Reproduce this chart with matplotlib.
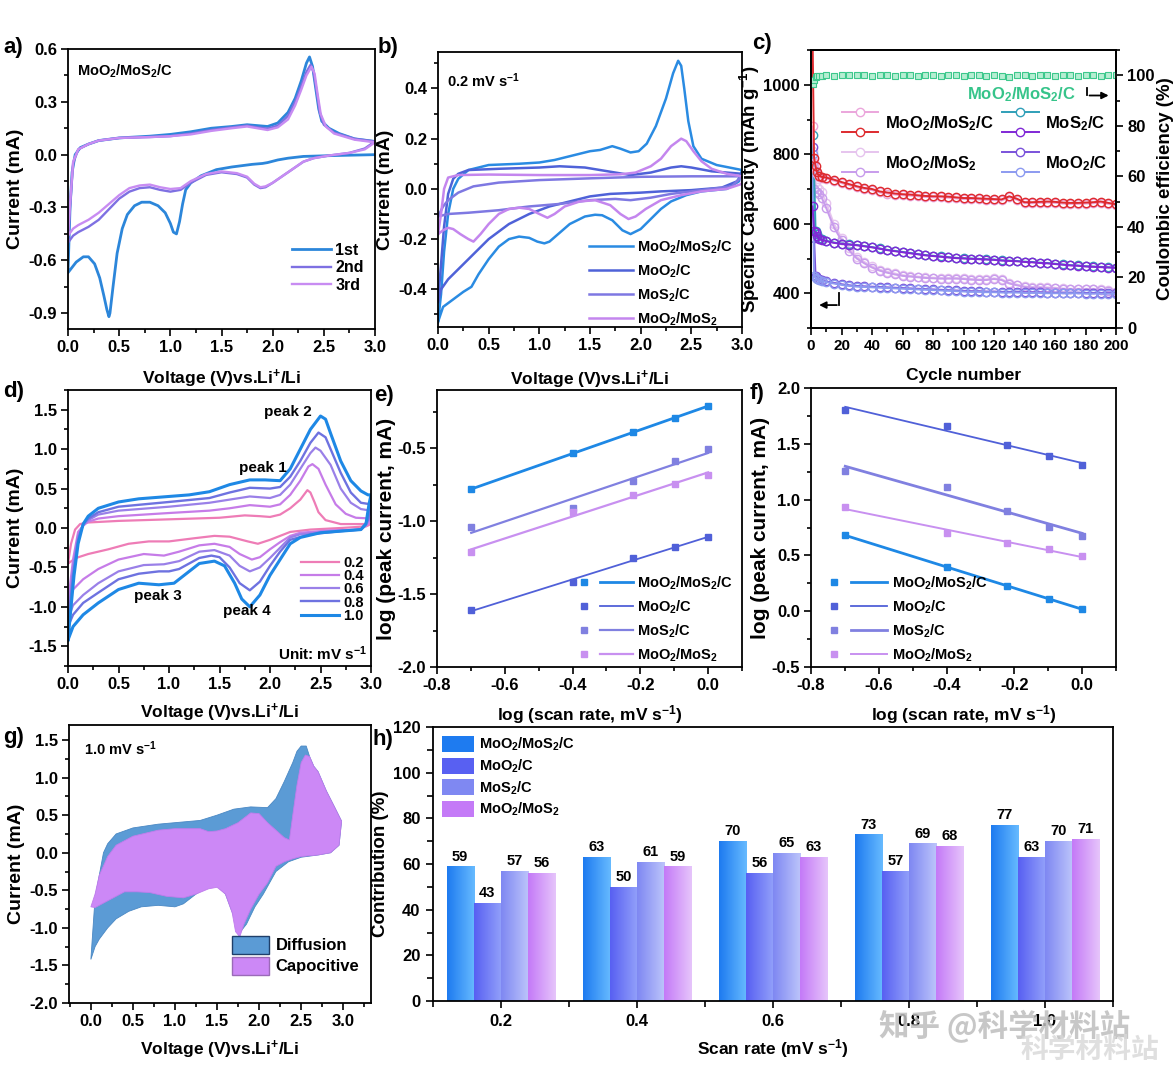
import numpy as np
import matplotlib
matplotlib.use('Agg')
import matplotlib.pyplot as plt
from matplotlib.ticker import MultipleLocator
from matplotlib.lines import Line2D
from matplotlib.patches import Patch
from matplotlib.legend_handler import HandlerBase
from matplotlib.colors import LinearSegmentedColormap

plt.rcParams['font.family'] = ['Liberation Sans', 'DejaVu Sans']
plt.rcParams['font.weight'] = 'bold'
plt.rcParams['axes.labelweight'] = 'bold'
plt.rcParams['mathtext.fontset'] = 'custom'
plt.rcParams['mathtext.rm'] = 'Liberation Sans:bold'
plt.rcParams['mathtext.it'] = 'Liberation Sans:bold'
plt.rcParams['mathtext.bf'] = 'Liberation Sans:bold'
plt.rcParams['axes.unicode_minus'] = False
plt.rcParams['axes.linewidth'] = 1.3

# ---------------- data ----------------
# a) CV of MoO2/MoS2/C, first three cycles (V, mA)
a_1st = [(3.0, 0.0), (2.6, -0.005), (2.3, -0.01), (2.15, -0.02), (2.05, -0.03), (1.95, -0.045), (1.9, -0.05),
         (1.8, -0.055), (1.6, -0.07), (1.45, -0.085), (1.3, -0.12), (1.2, -0.16), (1.15, -0.2), (1.12, -0.28),
         (1.09, -0.38), (1.06, -0.45), (1.03, -0.44), (1.0, -0.39), (0.95, -0.33), (0.88, -0.29), (0.8, -0.27),
         (0.72, -0.27), (0.65, -0.29), (0.58, -0.34), (0.53, -0.42), (0.48, -0.56), (0.44, -0.75), (0.41, -0.9),
         (0.4, -0.92), (0.38, -0.88), (0.35, -0.8), (0.31, -0.7), (0.26, -0.62), (0.2, -0.58), (0.15, -0.58),
         (0.08, -0.61), (0.0, -0.67), (0.02, -0.3), (0.04, -0.1), (0.07, 0.0), (0.12, 0.04), (0.2, 0.06),
         (0.3, 0.08), (0.5, 0.095), (0.8, 0.105), (1.0, 0.115), (1.2, 0.13), (1.4, 0.15), (1.6, 0.16),
         (1.75, 0.17), (1.85, 0.165), (1.95, 0.16), (2.05, 0.18), (2.15, 0.24), (2.22, 0.32), (2.28, 0.42),
         (2.33, 0.52), (2.36, 0.555), (2.39, 0.5), (2.42, 0.38), (2.45, 0.26), (2.48, 0.19), (2.55, 0.15),
         (2.65, 0.12), (2.8, 0.09), (3.0, 0.075)]
a_2nd = [(3.0, 0.075), (2.9, 0.035), (2.75, 0.01), (2.55, -0.005), (2.4, -0.02), (2.3, -0.04), (2.2, -0.08),
         (2.1, -0.12), (2.0, -0.16), (1.93, -0.185), (1.88, -0.19), (1.82, -0.17), (1.75, -0.13), (1.65, -0.11),
         (1.5, -0.1), (1.35, -0.115), (1.2, -0.16), (1.1, -0.2), (1.0, -0.21), (0.9, -0.2), (0.8, -0.185),
         (0.7, -0.19), (0.6, -0.21), (0.5, -0.25), (0.4, -0.31), (0.3, -0.37), (0.2, -0.41), (0.1, -0.44),
         (0.05, -0.46), (0.0, -0.5), (0.02, -0.3), (0.05, -0.05), (0.1, 0.03), (0.2, 0.06), (0.3, 0.08),
         (0.5, 0.095), (0.8, 0.1), (1.0, 0.105), (1.2, 0.12), (1.4, 0.14), (1.6, 0.155), (1.75, 0.165),
         (1.85, 0.155), (1.95, 0.148), (2.05, 0.165), (2.15, 0.22), (2.22, 0.3), (2.28, 0.39), (2.33, 0.47),
         (2.37, 0.51), (2.4, 0.47), (2.43, 0.36), (2.46, 0.24), (2.5, 0.17), (2.6, 0.125), (2.8, 0.09), (3.0, 0.075)]
a_3rd = [(3.0, 0.07), (2.9, 0.03), (2.75, 0.01), (2.55, -0.005), (2.4, -0.02), (2.3, -0.04), (2.2, -0.08),
         (2.1, -0.12), (2.0, -0.16), (1.93, -0.18), (1.88, -0.185), (1.82, -0.165), (1.75, -0.125), (1.65, -0.105),
         (1.5, -0.095), (1.35, -0.11), (1.2, -0.15), (1.1, -0.19), (1.0, -0.195), (0.9, -0.185), (0.8, -0.17),
         (0.7, -0.175), (0.6, -0.19), (0.5, -0.23), (0.4, -0.28), (0.3, -0.33), (0.2, -0.37), (0.1, -0.4),
         (0.05, -0.42), (0.0, -0.46), (0.02, -0.28), (0.05, -0.04), (0.1, 0.03), (0.2, 0.06), (0.3, 0.08),
         (0.5, 0.095), (0.8, 0.1), (1.0, 0.105), (1.2, 0.115), (1.4, 0.135), (1.6, 0.15), (1.75, 0.16),
         (1.85, 0.15), (1.95, 0.14), (2.05, 0.155), (2.15, 0.2), (2.22, 0.28), (2.28, 0.37), (2.33, 0.45),
         (2.38, 0.5), (2.41, 0.46), (2.44, 0.34), (2.47, 0.23), (2.52, 0.16), (2.6, 0.12), (2.8, 0.085), (3.0, 0.07)]
a_labels = ['1st', '2nd', '3rd']

# b) CV at 0.2 mV/s for four electrodes
b_mms_c = [(0.0, -0.53), (0.03, -0.42), (0.06, -0.25), (0.1, -0.1), (0.15, 0.0), (0.2, 0.04), (0.3, 0.075),
           (0.5, 0.095), (0.8, 0.1), (1.0, 0.105), (1.15, 0.115), (1.3, 0.13), (1.5, 0.15), (1.6, 0.155),
           (1.72, 0.17), (1.8, 0.16), (1.9, 0.145), (1.98, 0.15), (2.06, 0.18), (2.15, 0.25), (2.25, 0.36),
           (2.32, 0.46), (2.37, 0.51), (2.4, 0.49), (2.43, 0.4), (2.47, 0.27), (2.52, 0.17), (2.6, 0.12),
           (2.75, 0.095), (3.0, 0.075), (2.97, 0.03), (2.85, 0.0), (2.6, -0.01), (2.45, -0.025), (2.3, -0.05),
           (2.2, -0.08), (2.1, -0.12), (2.0, -0.16), (1.9, -0.18), (1.82, -0.165), (1.72, -0.125), (1.62, -0.105),
           (1.55, -0.103), (1.45, -0.11), (1.3, -0.14), (1.2, -0.175), (1.1, -0.21), (1.05, -0.217), (0.98, -0.21),
           (0.9, -0.195), (0.8, -0.19), (0.7, -0.2), (0.6, -0.23), (0.5, -0.28), (0.4, -0.34), (0.33, -0.39),
           (0.25, -0.41), (0.15, -0.44), (0.05, -0.47), (0.0, -0.53)]
b_moo2_c = [(0.0, -0.45), (0.03, -0.3), (0.06, -0.15), (0.1, -0.02), (0.15, 0.04), (0.2, 0.06), (0.3, 0.075),
            (0.6, 0.08), (1.0, 0.085), (1.2, 0.09), (1.45, 0.085), (1.6, 0.075), (1.75, 0.065), (1.9, 0.055),
            (2.1, 0.065), (2.3, 0.085), (2.4, 0.09), (2.5, 0.085), (2.7, 0.07), (3.0, 0.06), (2.95, 0.03),
            (2.8, 0.005), (2.5, -0.005), (2.2, -0.01), (2.0, -0.015), (1.7, -0.02), (1.5, -0.03), (1.3, -0.05),
            (1.1, -0.07), (0.9, -0.1), (0.7, -0.14), (0.5, -0.2), (0.35, -0.26), (0.2, -0.32), (0.1, -0.36),
            (0.03, -0.4), (0.0, -0.45)]
b_mos2_c = [(0.0, -0.11), (0.05, -0.07), (0.1, -0.045), (0.2, -0.015), (0.35, 0.01), (0.6, 0.025), (1.0, 0.035),
            (1.5, 0.042), (2.0, 0.048), (2.5, 0.05), (3.0, 0.05), (2.9, 0.01), (2.6, -0.005), (2.3, -0.02),
            (2.1, -0.035), (1.9, -0.045), (1.75, -0.04), (1.5, -0.045), (1.2, -0.06), (0.9, -0.07), (0.6, -0.085),
            (0.3, -0.095), (0.1, -0.1), (0.0, -0.11)]
b_mms = [(0.0, -0.18), (0.03, -0.1), (0.06, 0.0), (0.1, 0.045), (0.2, 0.055), (0.5, 0.057), (1.0, 0.055),
         (1.5, 0.055), (1.8, 0.058), (1.95, 0.065), (2.1, 0.09), (2.2, 0.12), (2.3, 0.17), (2.4, 0.2), (2.45, 0.19),
         (2.52, 0.15), (2.6, 0.11), (2.7, 0.08), (2.85, 0.06), (3.0, 0.05), (3.0, 0.02), (2.85, 0.0), (2.6, -0.01),
         (2.4, -0.025), (2.2, -0.045), (2.05, -0.08), (1.95, -0.11), (1.88, -0.12), (1.8, -0.1), (1.7, -0.065),
         (1.55, -0.045), (1.4, -0.05), (1.25, -0.07), (1.15, -0.1), (1.08, -0.115), (1.0, -0.1), (0.9, -0.08),
         (0.8, -0.075), (0.7, -0.08), (0.6, -0.1), (0.5, -0.14), (0.42, -0.18), (0.35, -0.21), (0.3, -0.2),
         (0.22, -0.18), (0.15, -0.16), (0.1, -0.155), (0.05, -0.165), (0.0, -0.18)]
materials = ['MoO$_2$/MoS$_2$/C', 'MoO$_2$/C', 'MoS$_2$/C', 'MoO$_2$/MoS$_2$']

# c) cycling (capacity mAh/g, CE %)
cycles = [1, 2, 3, 4, 5, 7, 10, 15, 20, 25, 30, 35, 40, 45, 50, 55, 60, 65, 70, 75, 80, 85, 90, 95, 100,
          105, 110, 115, 120, 125, 130, 135, 140, 145, 150, 155, 160, 165, 170, 175, 180, 185, 190, 195, 200]
cap_mms_c_dis = [1150, 790, 765, 748, 738, 735, 733, 727, 720, 714, 708, 703, 700, 693, 690, 687, 685, 684, 682,
                 680, 679, 679, 678, 676, 674, 674, 673, 672, 671, 670, 679, 672, 662, 662, 663, 664, 663, 661,
                 660, 660, 661, 662, 664, 660, 656]
cap_mms_c_chg = [880, 775, 755, 742, 735, 733, 730, 724, 717, 711, 705, 700, 697, 690, 687, 684, 682, 681, 679,
                 677, 676, 676, 675, 673, 671, 671, 670, 669, 668, 667, 676, 669, 659, 659, 660, 661, 660, 658,
                 657, 657, 658, 659, 661, 657, 653]
cap_mms_dis = [810, 780, 720, 705, 700, 690, 660, 600, 560, 530, 505, 490, 478, 468, 462, 457, 452, 450, 448,
               446, 445, 444, 444, 444, 443, 441, 440, 440, 443, 440, 430, 425, 420, 418, 418, 417, 416, 414,
               413, 413, 413, 413, 412, 408, 405]
cap_mms_chg = [770, 700, 690, 690, 685, 675, 645, 590, 552, 523, 500, 486, 474, 465, 459, 454, 450, 448, 446,
               444, 443, 442, 442, 442, 441, 439, 438, 438, 441, 438, 428, 423, 418, 416, 416, 415, 414, 412,
               411, 411, 411, 411, 410, 406, 403]
cap_mos2_c_chg = [855, 755, 580, 570, 560, 555, 551, 546, 543, 541, 539, 536, 533, 529, 525, 522, 519, 516, 513,
                  510, 508, 506, 504, 502, 501, 500, 499, 498, 497, 495, 494, 493, 491, 490, 488, 487, 485, 483,
                  481, 480, 478, 477, 476, 475, 474]
cap_mos2_c_dis = [650, 580, 575, 565, 556, 553, 550, 545, 542, 540, 538, 535, 532, 528, 524, 521, 518, 515, 512,
                  509, 507, 505, 503, 501, 500, 499, 498, 497, 496, 494, 493, 492, 490, 489, 487, 486, 484, 482,
                  480, 479, 477, 476, 475, 474, 473]
cap_moo2_c_chg = [820, 560, 450, 445, 440, 437, 434, 430, 426, 423, 421, 420, 419, 418, 417, 416, 415, 414, 413,
                  412, 411, 410, 409, 408, 407, 406, 406, 405, 405, 404, 404, 404, 403, 403, 403, 402, 402, 402,
                  402, 402, 401, 401, 401, 401, 400]
cap_moo2_c_dis = [800, 450, 445, 440, 437, 435, 432, 428, 424, 421, 419, 418, 417, 416, 415, 414, 413, 412, 411,
                  410, 409, 408, 407, 406, 405, 404, 404, 403, 403, 402, 402, 402, 401, 401, 401, 400, 400, 400,
                  400, 400, 399, 399, 399, 399, 398]
ce_mms_c = [96.5, 98.2, 99.3, 99.6, 99.8, 99.9, 100.1, 99.8, 100.2, 100.0, 100.3, 100.1, 99.9, 100.2, 100.0,
            99.8, 100.1, 100.2, 99.9, 100.0, 100.1, 99.9, 100.2, 100.0, 99.8, 100.1, 100.0, 99.9, 100.2, 99.7,
            99.5, 100.0, 100.1, 99.9, 100.2, 100.0, 99.9, 100.1, 100.0, 99.8, 100.2, 100.0, 99.9, 100.1, 100.0]

# d) CV of MoO2/MoS2/C at different scan rates
d_rates = ['0.2', '0.4', '0.6', '0.8', '1.0']
d_02 = [(0.0, -0.45), (0.03, -0.2), (0.07, -0.02), (0.12, 0.05), (0.2, 0.07), (0.5, 0.09), (1.0, 0.11), (1.5, 0.13),
        (1.75, 0.16), (1.9, 0.15), (2.0, 0.14), (2.1, 0.17), (2.2, 0.25), (2.3, 0.36), (2.37, 0.48), (2.4, 0.45),
        (2.44, 0.33), (2.48, 0.2), (2.55, 0.1), (2.7, 0.05), (3.0, 0.05), (2.95, 0.02), (2.7, 0.0), (2.4, -0.02),
        (2.2, -0.05), (2.1, -0.1), (2.0, -0.15), (1.88, -0.2), (1.78, -0.17), (1.6, -0.11), (1.45, -0.1),
        (1.25, -0.13), (1.0, -0.17), (0.8, -0.17), (0.6, -0.2), (0.4, -0.27), (0.2, -0.33), (0.08, -0.38),
        (0.0, -0.45)]
d_04 = [(0.0, -0.95), (0.05, -0.4), (0.1, -0.05), (0.15, 0.03), (0.2, 0.08), (0.3, 0.12), (0.5, 0.15), (1.0, 0.19),
        (1.4, 0.22), (1.6, 0.25), (1.8, 0.29), (2.0, 0.27), (2.1, 0.3), (2.2, 0.42), (2.3, 0.6), (2.38, 0.78),
        (2.42, 0.81), (2.48, 0.75), (2.55, 0.55), (2.65, 0.3), (2.75, 0.18), (2.85, 0.13), (3.0, 0.12), (2.97, 0.05),
        (2.9, -0.02), (2.6, -0.03), (2.3, -0.06), (2.2, -0.1), (2.1, -0.18), (2.0, -0.27), (1.9, -0.37),
        (1.82, -0.4), (1.7, -0.33), (1.6, -0.24), (1.45, -0.2), (1.3, -0.22), (1.1, -0.3), (0.95, -0.35),
        (0.75, -0.33), (0.5, -0.4), (0.3, -0.52), (0.15, -0.65), (0.05, -0.78), (0.0, -0.95)]
d_06 = [(0.0, -1.15), (0.05, -0.5), (0.1, -0.1), (0.15, 0.03), (0.2, 0.1), (0.3, 0.17), (0.5, 0.22), (1.0, 0.27),
        (1.4, 0.32), (1.6, 0.36), (1.8, 0.4), (2.0, 0.38), (2.1, 0.42), (2.2, 0.55), (2.3, 0.75), (2.4, 0.95),
        (2.45, 1.02), (2.5, 0.98), (2.6, 0.8), (2.7, 0.5), (2.8, 0.32), (2.9, 0.24), (3.0, 0.22), (2.97, 0.08),
        (2.9, -0.02), (2.6, -0.04), (2.3, -0.08), (2.2, -0.12), (2.1, -0.25), (2.0, -0.38), (1.9, -0.5),
        (1.8, -0.55), (1.7, -0.48), (1.6, -0.35), (1.45, -0.28), (1.3, -0.3), (1.1, -0.42), (0.95, -0.46),
        (0.75, -0.47), (0.5, -0.55), (0.3, -0.7), (0.15, -0.85), (0.05, -0.98), (0.0, -1.15)]
d_08 = [(0.0, -1.25), (0.05, -0.6), (0.1, -0.15), (0.15, 0.05), (0.2, 0.12), (0.3, 0.2), (0.5, 0.27), (1.0, 0.33),
        (1.4, 0.38), (1.6, 0.45), (1.8, 0.51), (2.0, 0.5), (2.1, 0.52), (2.2, 0.65), (2.3, 0.85), (2.4, 1.08),
        (2.48, 1.21), (2.55, 1.15), (2.6, 1.0), (2.7, 0.7), (2.8, 0.45), (2.9, 0.32), (3.0, 0.3), (2.97, 0.1),
        (2.9, -0.02), (2.7, -0.04), (2.4, -0.08), (2.2, -0.15), (2.1, -0.3), (2.0, -0.48), (1.9, -0.68),
        (1.8, -0.79), (1.7, -0.7), (1.6, -0.5), (1.5, -0.37), (1.42, -0.35), (1.3, -0.38), (1.1, -0.52),
        (1.0, -0.55), (0.9, -0.55), (0.7, -0.58), (0.5, -0.65), (0.3, -0.82), (0.15, -0.95), (0.05, -1.1),
        (0.0, -1.25)]
d_10 = [(0.0, -1.42), (0.03, -1.0), (0.06, -0.6), (0.1, -0.2), (0.15, 0.05), (0.2, 0.15), (0.3, 0.25), (0.5, 0.33),
        (0.7, 0.37), (1.0, 0.4), (1.2, 0.42), (1.4, 0.46), (1.6, 0.55), (1.8, 0.61), (1.95, 0.61), (2.1, 0.6),
        (2.2, 0.75), (2.3, 1.0), (2.4, 1.25), (2.5, 1.42), (2.55, 1.38), (2.6, 1.2), (2.7, 0.85), (2.8, 0.6),
        (2.9, 0.47), (2.97, 0.42), (3.0, 0.42), (2.98, 0.3), (2.95, 0.05), (2.9, -0.02), (2.7, -0.04), (2.5, -0.06),
        (2.3, -0.12), (2.2, -0.2), (2.1, -0.4), (2.0, -0.6), (1.9, -0.85), (1.8, -1.0), (1.72, -0.9),
        (1.65, -0.7), (1.55, -0.48), (1.45, -0.42), (1.3, -0.45), (1.2, -0.55), (1.05, -0.7), (0.9, -0.72),
        (0.7, -0.7), (0.5, -0.78), (0.3, -0.95), (0.15, -1.1), (0.05, -1.25), (0.0, -1.42)]

# e) / f) log(peak current) vs log(scan rate)
log_rate = [-0.699, -0.398, -0.222, -0.097, 0.0]
e_mms_c = [-0.78, -0.534, -0.39, -0.289, -0.211]
e_moo2_c = [-1.61, -1.42, -1.25, -1.18, -1.109]
e_mos2_c = [-1.039, -0.91, -0.723, -0.59, -0.507]
e_mms = [-1.211, -0.939, -0.823, -0.743, -0.68]
f_mms_c = [0.68, 0.395, 0.225, 0.111, 0.018]
f_moo2_c = [1.805, 1.662, 1.485, 1.395, 1.311]
f_mos2_c = [1.254, 1.117, 0.901, 0.757, 0.677]
f_mms = [0.934, 0.70, 0.611, 0.554, 0.497]

# g) capacitive contribution at 1.0 mV/s
g_total = [(0.0, -1.42), (0.05, -0.6), (0.1, -0.3), (0.15, 0.0), (0.2, 0.12), (0.3, 0.25), (0.5, 0.33), (0.8, 0.38),
           (1.0, 0.4), (1.3, 0.43), (1.5, 0.5), (1.7, 0.58), (1.9, 0.61), (2.1, 0.6), (2.2, 0.72), (2.3, 0.95),
           (2.4, 1.2), (2.45, 1.35), (2.5, 1.42), (2.56, 1.42), (2.6, 1.28), (2.65, 1.15), (2.7, 1.08), (2.8, 0.82),
           (2.9, 0.6), (2.98, 0.42), (2.95, 0.1), (2.85, 0.0), (2.7, -0.03), (2.5, -0.06), (2.35, -0.12), (2.2, -0.25),
           (2.05, -0.55), (1.95, -0.72), (1.85, -0.95), (1.78, -1.05), (1.7, -0.85), (1.6, -0.55), (1.5, -0.44),
           (1.4, -0.45), (1.25, -0.55), (1.1, -0.68), (1.0, -0.72), (0.8, -0.7), (0.6, -0.72), (0.45, -0.78),
           (0.3, -0.88), (0.2, -1.0), (0.1, -1.15), (0.05, -1.25), (0.0, -1.42)]
g_capacitive = [(0.0, -0.72), (0.05, -0.55), (0.1, -0.3), (0.2, -0.05), (0.3, 0.1), (0.5, 0.22), (0.8, 0.3),
                (1.0, 0.32), (1.3, 0.32), (1.4, 0.28), (1.5, 0.29), (1.6, 0.32), (1.75, 0.4), (1.9, 0.53),
                (2.0, 0.52), (2.1, 0.4), (2.2, 0.3), (2.3, 0.2), (2.36, 0.17), (2.4, 0.5), (2.45, 0.9), (2.5, 1.2),
                (2.55, 1.3), (2.6, 1.28), (2.65, 1.15), (2.7, 1.08), (2.8, 0.82), (2.9, 0.6), (2.98, 0.42),
                (2.95, 0.1), (2.85, 0.0), (2.7, -0.03), (2.5, -0.05), (2.4, -0.08), (2.3, -0.12), (2.2, -0.18),
                (2.1, -0.4), (2.0, -0.55), (1.9, -0.75), (1.82, -0.95), (1.77, -1.12), (1.72, -1.05), (1.68, -0.8),
                (1.6, -0.55), (1.5, -0.46), (1.4, -0.48), (1.25, -0.55), (1.1, -0.6), (0.9, -0.58), (0.7, -0.53),
                (0.55, -0.52), (0.4, -0.52), (0.3, -0.58), (0.15, -0.67), (0.05, -0.73), (0.0, -0.72)]

# h) capacitive contribution (%)
h_rates = [0.2, 0.4, 0.6, 0.8, 1.0]
h_mms_c = [59, 63, 70, 73, 77]
h_moo2_c = [43, 50, 56, 57, 63]
h_mos2_c = [57, 61, 65, 69, 70]
h_mms = [56, 59, 63, 68, 71]

# ---------------- helpers ----------------
W, H = 1173, 1080
TICK = 12
XLAB = 12.5
fig = plt.figure(figsize=(W / 100, H / 100), dpi=100)


def add_ax(l, t, r, b):
    return fig.add_axes([l / W, 1 - b / H, (r - l) / W, (b - t) / H])


def style(ax, xmaj, ymaj, xmin=None, ymin=None):
    ax.xaxis.set_major_locator(MultipleLocator(xmaj))
    ax.yaxis.set_major_locator(MultipleLocator(ymaj))
    ax.xaxis.set_minor_locator(MultipleLocator(xmin if xmin else xmaj / 2))
    ax.yaxis.set_minor_locator(MultipleLocator(ymin if ymin else ymaj / 2))
    ax.tick_params(which='both', direction='out', top=False, right=False, labelsize=TICK, width=1.2, pad=3)
    ax.tick_params(which='major', length=5)
    ax.tick_params(which='minor', length=3)


def xy(pts):
    a = np.array(pts)
    return a[:, 0], a[:, 1]


def panel(x, y, s):
    fig.text(x / W, 1 - y / H, s, fontsize=16, fontweight='bold', va='center', ha='left')


class HandlerPair(HandlerBase):
    def create_artists(self, legend, orig_handle, xdescent, ydescent, width, height, fontsize, trans):
        arts = []
        yc = height / 2 - ydescent
        for h, dy in zip(orig_handle, (0.6, -0.6)):
            y = yc + dy * fontsize
            ln = Line2D([-xdescent, -xdescent + width], [y, y], color=h.get_color(), lw=h.get_linewidth())
            mk = Line2D([-xdescent + width / 2], [y], ls='none', marker='o', ms=h.get_markersize(),
                        mfc='white', mec=h.get_color(), mew=1.0)
            for art in (ln, mk):
                art.set_transform(trans)
                arts.append(art)
        return arts


class HandlerMarkLine(HandlerBase):
    def create_artists(self, legend, orig_handle, xdescent, ydescent, width, height, fontsize, trans):
        mk, ln = orig_handle
        y = height / 2 - ydescent
        x0 = -xdescent
        a1 = Line2D([x0 + 0.08 * width], [y], ls='none', marker='s', ms=mk.get_markersize(), color=mk.get_color())
        a2 = Line2D([x0 + 0.38 * width, x0 + width], [y, y], color=ln.get_color(), lw=ln.get_linewidth())
        a1.set_transform(trans)
        a2.set_transform(trans)
        return [a1, a2]


# ---------------- a ----------------
ax = add_ax(68, 49, 375, 329)
for pts, c, lw, lab in zip([a_1st, a_2nd, a_3rd], ['#2C86DA', '#7E70E2', '#C88CF2'], [2.0, 1.7, 1.7], a_labels):
    v, i = xy(pts)
    ax.plot(v, i, color=c, lw=lw, label=lab)
ax.set_xlim(0, 3.0)
ax.set_ylim(-0.99, 0.6)
style(ax, 0.5, 0.3)
ax.set_xlabel('Voltage (V)vs.Li$^{+}$/Li', fontsize=XLAB, labelpad=9)
ax.set_ylabel('Current (mA)', fontsize=14, labelpad=3)
ax.text(0.03, 0.95, 'MoO$_2$/MoS$_2$/C', transform=ax.transAxes, fontsize=10.5, fontweight='bold', va='top')
ax.legend(loc='lower right', bbox_to_anchor=(1.0, 0.09), frameon=False, fontsize=11.5, handlelength=2.4,
          labelspacing=0.15, handletextpad=0.3, borderaxespad=0.3)
panel(3, 47, 'a)')

# ---------------- b ----------------
ax = add_ax(438, 52, 742, 327)
b_colors = ['#2A8BE2', '#4F62D8', '#7E78E2', '#C486EE']
for pts, c, lab in zip([b_mms_c, b_moo2_c, b_mos2_c, b_mms], b_colors, materials):
    v, i = xy(pts)
    ax.plot(v, i, color=c, lw=1.8, label=lab)
ax.set_xlim(0, 3.0)
ax.set_ylim(-0.55, 0.545)
style(ax, 0.5, 0.2)
ax.set_xlabel('Voltage (V)vs.Li$^{+}$/Li', fontsize=XLAB, labelpad=11)
ax.set_ylabel('Current (mA)', fontsize=14, labelpad=3)
ax.text(0.03, 0.93, '0.2 mV s$^{-1}$', transform=ax.transAxes, fontsize=10.5, fontweight='bold', va='top')
ax.legend(loc='lower right', bbox_to_anchor=(1.0, -0.035), frameon=False, fontsize=10.5, handlelength=3.0,
          labelspacing=0.45, handletextpad=0.3, borderaxespad=0.2)
panel(378, 47, 'b)')

# ---------------- c ----------------
ax = add_ax(811, 50, 1116, 328)
ax2 = ax.twinx()
c_series = [
    (cap_mms_dis, '#E6C4EE'), (cap_mms_chg, '#C89CEC'),
    (cap_moo2_c_chg, '#7A52DA'), (cap_moo2_c_dis, '#8C9AF0'),
    (cap_mos2_c_chg, '#2F9FB8'), (cap_mos2_c_dis, '#8028D6'),
    (cap_mms_c_chg, '#EBA6DC'), (cap_mms_c_dis, '#DE2A2E'),
]
lines = {}
for vals, c in c_series:
    ln, = ax.plot(cycles, vals, '-o', color=c, mfc='none', mec=c, ms=6, mew=1.0, lw=1.4)
    lines[c] = ln
ax2.plot(cycles, ce_mms_c, 's', color='#3CC88C', mfc='#B6EED2', mec='#3CC88C', ms=4.5, mew=0.8)
ax.set_xlim(0, 200)
ax.set_ylim(300, 1100)
ax2.set_ylim(0, 110)
style(ax, 20, 200, 10, 100)
ax.tick_params(axis='x', labelsize=11)
ax2.yaxis.set_major_locator(MultipleLocator(20))
ax2.yaxis.set_minor_locator(MultipleLocator(10))
ax2.tick_params(which='both', direction='out', labelsize=TICK, width=1.2, pad=3)
ax2.tick_params(which='major', length=5)
ax2.tick_params(which='minor', length=3)
ax.set_xlabel('Cycle number', fontsize=XLAB, labelpad=11)
ax.set_ylabel('Specific Capacity (mAh g$^{-1}$)', fontsize=13.5, labelpad=1)
ax2.set_ylabel('Coulombic efficiency (%)', fontsize=13.5, labelpad=2)
ax.text(0.69, 0.84, 'MoO$_2$/MoS$_2$/C', transform=ax.transAxes, fontsize=12, fontweight='bold',
        color='#36C48A', ha='center', va='center')
# axis hint arrows
ax.plot([18.6, 18.6], [402, 366], color='k', lw=1.3)
ax.annotate('', xy=(3.5, 366), xytext=(18.8, 366),
            arrowprops=dict(arrowstyle='-|>', color='k', lw=1.3, mutation_scale=10))
ax2.plot([181, 181], [95, 92], color='k', lw=1.3)
ax2.annotate('', xy=(197, 92), xytext=(180.8, 92),
             arrowprops=dict(arrowstyle='-|>', color='k', lw=1.3, mutation_scale=10))
pairs = [(lines['#EBA6DC'], lines['#DE2A2E']), (lines['#E6C4EE'], lines['#C89CEC']),
         (lines['#2F9FB8'], lines['#8028D6']), (lines['#7A52DA'], lines['#8C9AF0'])]
pair_labels = ['MoO$_2$/MoS$_2$/C', 'MoO$_2$/MoS$_2$', 'MoS$_2$/C', 'MoO$_2$/C']
ax2.legend(pairs, pair_labels, handler_map={tuple: HandlerPair()}, loc='upper left',
           bbox_to_anchor=(0.1, 0.77), ncol=2, frameon=False, fontsize=12, handlelength=2.2,
           handletextpad=0.4, columnspacing=0.5, labelspacing=1.3, borderpad=0, borderaxespad=0)
panel(752, 44, 'c)')

# ---------------- d ----------------
ax = add_ax(68, 390, 371, 666)
d_colors = ['#EE7CB6', '#C67CE8', '#9A80E8', '#6E72E0', '#1E88E5']
for pts, c, lab, lw in zip([d_02, d_04, d_06, d_08, d_10], d_colors, d_rates, [1.6, 1.6, 1.6, 1.7, 2.2]):
    v, i = xy(pts)
    ax.plot(v, i, color=c, lw=lw, label=lab)
ax.set_xlim(0, 3.0)
ax.set_ylim(-1.75, 1.75)
style(ax, 0.5, 0.5)
ax.set_xlabel('Voltage (V)vs.Li$^{+}$/Li', fontsize=XLAB, labelpad=7)
ax.set_ylabel('Current (mA)', fontsize=14, labelpad=3)
for s, px, py in [('peak 1', 1.93, 0.76), ('peak 2', 2.18, 1.47), ('peak 3', 0.89, -0.86), ('peak 4', 1.77, -1.05)]:
    ax.text(px, py, s, fontsize=11, fontweight='bold', ha='center', va='center')
ax.text(2.52, -1.6, 'Unit: mV s$^{-1}$', fontsize=11, fontweight='bold', ha='center', va='center')
ax.legend(loc='lower right', bbox_to_anchor=(1.0, 0.13), frameon=False, fontsize=10.5, handlelength=2.6,
          labelspacing=-0.05, handletextpad=0.3, borderaxespad=0.1)
panel(3, 392, 'd)')

# ---------------- e ----------------
ax = add_ax(437, 390, 742, 667)
ef_colors = ['#1E88E5', '#5060D8', '#8080E0', '#C890F0']
ef_lw = [2.0, 1.3, 1.6, 1.6]
handles = []
for vals, c, lw in zip([e_mms_c, e_moo2_c, e_mos2_c, e_mms], ef_colors, ef_lw):
    ax.plot(log_rate, vals, 's', color=c, ms=5)
    coef = np.polyfit(log_rate, vals, 1)
    xx = np.array([log_rate[0], log_rate[-1]])
    ax.plot(xx, np.polyval(coef, xx), color=c, lw=lw)
    handles.append((Line2D([], [], color=c, ms=5), Line2D([], [], color=c, lw=lw)))
ax.set_xlim(-0.8, 0.1)
ax.set_ylim(-2.0, -0.1)
style(ax, 0.2, 0.5, 0.1, 0.25)
ax.set_xlabel('log (scan rate, mV s$^{-1}$)', fontsize=XLAB, labelpad=7)
ax.set_ylabel('log (peak current, mA)', fontsize=15, labelpad=1)
ax.legend(handles, materials, handler_map={tuple: HandlerMarkLine()}, loc='lower right', frameon=False,
          fontsize=10.5, handlelength=3.6, labelspacing=0.45, handletextpad=0.3, borderaxespad=0.2,
          bbox_to_anchor=(1.0, -0.02))
panel(374, 396, 'e)')

# ---------------- f ----------------
ax = add_ax(811, 388, 1116, 667)
handles = []
f_lw = [2.0, 1.3, 2.0, 1.4]
for vals, c, lw in zip([f_mms_c, f_moo2_c, f_mos2_c, f_mms], ef_colors, f_lw):
    ax.plot(log_rate, vals, 's', color=c, ms=5)
    coef = np.polyfit(log_rate, vals, 1)
    xx = np.array([log_rate[0], log_rate[-1]])
    ax.plot(xx, np.polyval(coef, xx), color=c, lw=lw)
    handles.append((Line2D([], [], color=c, ms=5), Line2D([], [], color=c, lw=lw)))
ax.set_xlim(-0.8, 0.1)
ax.set_ylim(-0.5, 2.0)
style(ax, 0.2, 0.5, 0.1, 0.25)
ax.set_xlabel('log (scan rate, mV s$^{-1}$)', fontsize=XLAB, labelpad=7)
ax.set_ylabel('log (peak current, mA)', fontsize=15, labelpad=1)
ax.legend(handles, materials, handler_map={tuple: HandlerMarkLine()}, loc='lower left', frameon=False,
          fontsize=10.5, handlelength=4.0, labelspacing=0.45, handletextpad=0.3, borderaxespad=0.2,
          bbox_to_anchor=(0.03, -0.02))
panel(750, 394, 'f)')

# ---------------- g ----------------
ax = add_ax(69, 725, 371, 1003)
v, i = xy(g_total)
ax.fill(v, i, facecolor='#5B9BD5', edgecolor='#4A88C4', lw=0.6, label='Diffusion')
v, i = xy(g_capacitive)
ax.fill(v, i, facecolor='#CC88F6', edgecolor='#C07CEC', lw=0.6, label='Capocitive')
ax.set_xlim(-0.26, 3.33)
ax.set_ylim(-2.0, 1.7)
style(ax, 0.5, 0.5)
ax.set_xlabel('Voltage (V)vs.Li$^{+}$/Li', fontsize=XLAB, labelpad=7)
ax.set_ylabel('Current (mA)', fontsize=14, labelpad=3)
ax.text(0.05, 0.95, '1.0 mV s$^{-1}$', transform=ax.transAxes, fontsize=10.5, fontweight='bold', va='top')
ax.legend(handles=[Patch(facecolor='#5B9BD5', edgecolor='#1F3F6A', label='Diffusion'),
                   Patch(facecolor='#CC88F6', edgecolor='#9A6AB8', label='Capocitive')],
          loc='lower right', bbox_to_anchor=(1.0, 0.06), frameon=False, fontsize=12, handlelength=2.2,
          handleheight=1.25, labelspacing=0.2, handletextpad=0.4, borderaxespad=0.3)
panel(3, 737, 'g)')

# ---------------- h ----------------
ax = add_ax(433, 727, 1113, 1001)
h_series = [h_mms_c, h_moo2_c, h_mos2_c, h_mms]
h_grad = [('#1E7BF0', '#66BAFF'), ('#5860F2', '#92A0FA'), ('#7F88F2', '#BCC4FB'), ('#C47AF7', '#E6C4FB')]
width = 0.04
x = np.array(h_rates)
legend_patches = []
for k, (vals, (c0, c1), lab) in enumerate(zip(h_series, h_grad, materials)):
    bars = ax.bar(x + (k - 1.5) * width, vals, width, color=c0, edgecolor='none', zorder=2)
    cmap = LinearSegmentedColormap.from_list('g%d' % k, [c0, c1])
    grad = np.linspace(0, 1, 32).reshape(1, -1)
    for b in bars:
        bx, by = b.get_xy()
        im = ax.imshow(grad, cmap=cmap, aspect='auto', interpolation='bilinear', zorder=2,
                       extent=[bx, bx + b.get_width(), by, by + b.get_height()])
        im.set_clip_path(b)
        b.set_facecolor('none')
    ax.bar_label(bars, padding=2, fontsize=10.5, fontweight='bold')
    legend_patches.append(Patch(facecolor=c0, edgecolor='none', label=lab))
ax.set_xlim(0.1, 1.1)
ax.set_ylim(0, 120)
ax.set_xticks(h_rates)
ax.xaxis.set_minor_locator(MultipleLocator(0.1))
ax.yaxis.set_major_locator(MultipleLocator(20))
ax.yaxis.set_minor_locator(MultipleLocator(10))
ax.tick_params(which='both', direction='out', top=False, right=False, labelsize=TICK, width=1.2, pad=4)
ax.tick_params(which='major', length=5)
ax.tick_params(which='minor', length=4)
ax.set_xlabel('Scan rate (mV s$^{-1}$)', fontsize=XLAB, labelpad=6)
ax.set_ylabel('Contribution (%)', fontsize=13.5, labelpad=3)
ax.legend(handles=legend_patches, loc='upper left', frameon=False, fontsize=10.5, handlelength=2.2,
          handleheight=1.3, labelspacing=0.3, handletextpad=0.35, borderaxespad=0.2)
panel(372, 740, 'h)')

# watermark
fig.text(1005 / W, 1 - 1027 / H, '知乎 @科学材料站', fontsize=22, color='#BDBDBD', alpha=0.85,
         ha='center', va='center', family=['Noto Sans CJK SC', 'DejaVu Sans'])
fig.text(1090 / W, 1 - 1050 / H, '科学材料站', fontsize=20, color='#D8D8D8', alpha=0.8,
         ha='center', va='center', family=['Noto Sans CJK SC', 'DejaVu Sans'])

fig.savefig('out.png', dpi=100)
